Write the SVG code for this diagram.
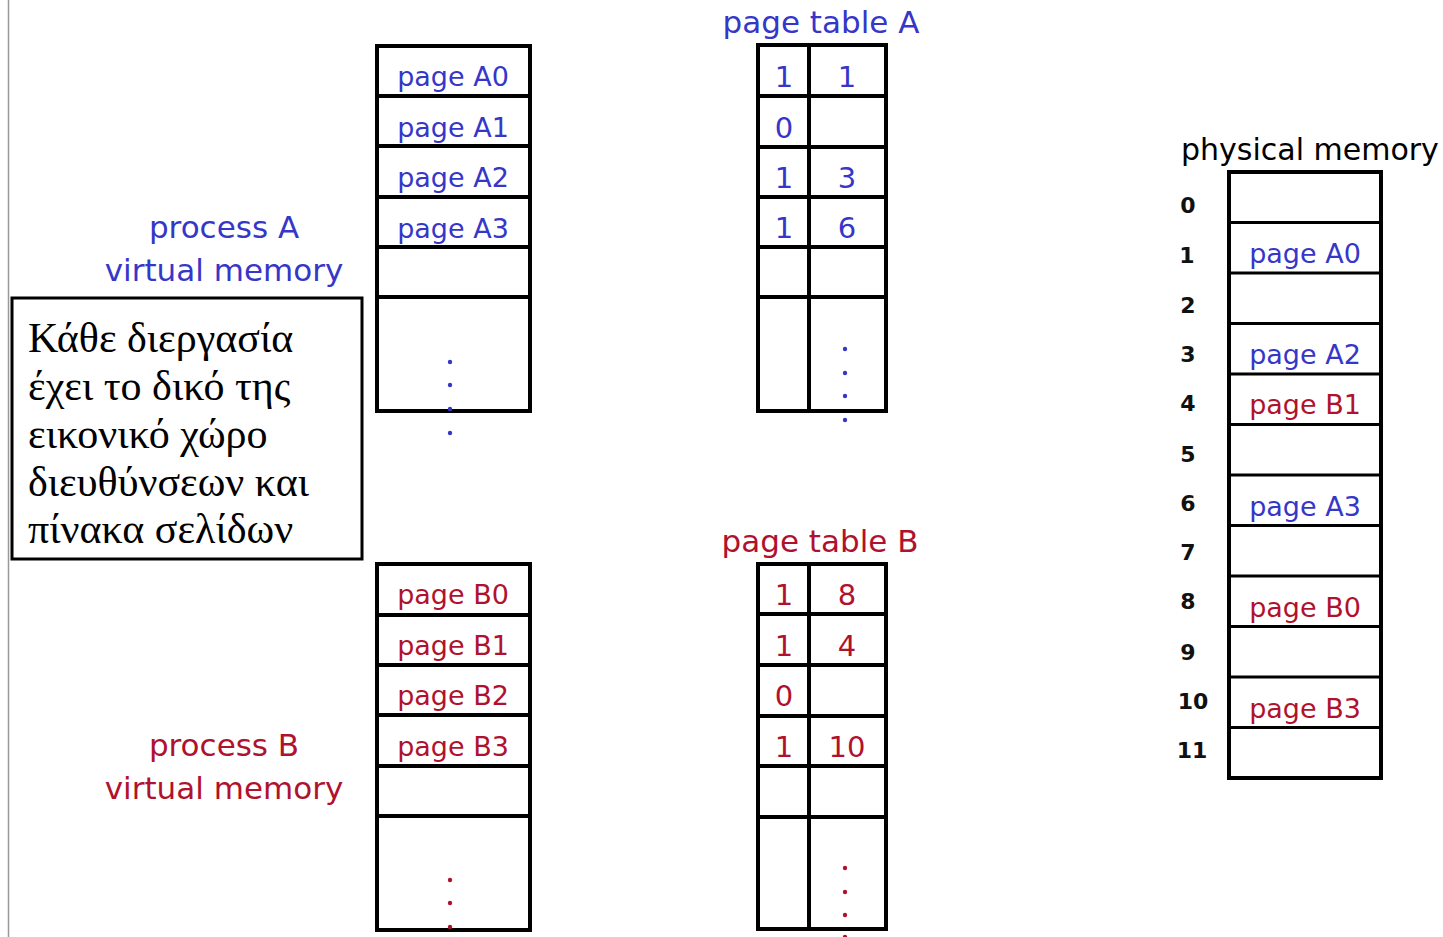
<svg xmlns="http://www.w3.org/2000/svg" width="1443" height="937" viewBox="0 0 1443 937">
<style>
.bg{fill:#fff}
.box{fill:#fff;stroke:#000;stroke-width:4}
.ln{stroke:#000;stroke-width:4}
.lnt{stroke:#000;stroke-width:3}
.t{font-family:"DejaVu Sans","Liberation Sans",sans-serif}
.a{fill:#3636c8}
.b{fill:#b0122e}
.k{fill:#000}
.lbl{font-size:31px;text-anchor:middle}
.pg{font-size:27px;text-anchor:middle}
.num{font-size:29px;text-anchor:middle}
.idx{font-size:22px;font-weight:bold;text-anchor:middle;fill:#111}
.gr{font-family:"Liberation Serif","DejaVu Serif",serif;font-size:42px;fill:#000}
</style>
<rect class="bg" x="0" y="0" width="1443" height="937"/>
<line x1="8.5" y1="0" x2="8.5" y2="937" stroke="#999" stroke-width="1.5"/>

<g id="note">
<rect x="12" y="298" width="350" height="261" fill="#fff" stroke="#000" stroke-width="3"/>
<text class="gr" x="28" y="352">Κάθε διεργασία</text>
<text class="gr" x="28" y="400">έχει το δικό της</text>
<text class="gr" x="28" y="448">εικονικό χώρο</text>
<text class="gr" x="28" y="496">διευθύνσεων και</text>
<text class="gr" x="28" y="543">πίνακα σελίδων</text>
</g>

<g id="labelA" class="t a lbl">
<text x="224" y="238">process A</text>
<text x="224" y="281">virtual memory</text>
</g>
<g id="labelB" class="t b lbl">
<text x="224" y="756">process B</text>
<text x="224" y="799">virtual memory</text>
</g>

<g id="vmA">
<rect class="box" x="377" y="46" width="153" height="365"/>
<line class="ln" x1="377" y1="96" x2="530" y2="96"/>
<line class="ln" x1="377" y1="146" x2="530" y2="146"/>
<line class="ln" x1="377" y1="197" x2="530" y2="197"/>
<line class="ln" x1="377" y1="247" x2="530" y2="247"/>
<line class="ln" x1="377" y1="297" x2="530" y2="297"/>
<g class="t a pg">
<text x="453" y="86">page A0</text>
<text x="453" y="137">page A1</text>
<text x="453" y="187">page A2</text>
<text x="453" y="238">page A3</text>
</g>
<g class="a"><circle cx="450" cy="362" r="2.2"/><circle cx="450" cy="385" r="2.2"/><circle cx="450" cy="409" r="2.2"/><circle cx="450" cy="433" r="2.2"/></g>
</g>

<g id="vmB">
<rect class="box" x="377" y="564" width="153" height="366"/>
<line class="ln" x1="377" y1="615" x2="530" y2="615"/>
<line class="ln" x1="377" y1="665" x2="530" y2="665"/>
<line class="ln" x1="377" y1="715" x2="530" y2="715"/>
<line class="ln" x1="377" y1="766" x2="530" y2="766"/>
<line class="ln" x1="377" y1="816" x2="530" y2="816"/>
<g class="t b pg">
<text x="453" y="604">page B0</text>
<text x="453" y="655">page B1</text>
<text x="453" y="705">page B2</text>
<text x="453" y="756">page B3</text>
</g>
<g class="b"><circle cx="450" cy="880" r="2.2"/><circle cx="450" cy="903" r="2.2"/><circle cx="450" cy="927" r="2.2"/></g>
</g>

<g id="ptA">
<text class="t a lbl" x="821" y="33">page table A</text>
<rect class="box" x="758" y="45" width="128" height="366"/>
<line class="ln" x1="809" y1="45" x2="809" y2="411"/>
<line class="ln" x1="758" y1="96" x2="886" y2="96"/>
<line class="ln" x1="758" y1="147" x2="886" y2="147"/>
<line class="ln" x1="758" y1="197" x2="886" y2="197"/>
<line class="ln" x1="758" y1="247" x2="886" y2="247"/>
<line class="ln" x1="758" y1="297" x2="886" y2="297"/>
<g class="t a num">
<text x="784" y="87">1</text><text x="847" y="87">1</text>
<text x="784" y="138">0</text>
<text x="784" y="188">1</text><text x="847" y="188">3</text>
<text x="784" y="238">1</text><text x="847" y="238">6</text>
</g>
<g class="a"><circle cx="845" cy="349" r="2.2"/><circle cx="845" cy="373" r="2.2"/><circle cx="845" cy="396" r="2.2"/><circle cx="845" cy="420" r="2.2"/></g>
</g>

<g id="ptB">
<text class="t b lbl" x="820" y="552">page table B</text>
<rect class="box" x="758" y="564" width="128" height="365"/>
<line class="ln" x1="809" y1="564" x2="809" y2="929"/>
<line class="ln" x1="758" y1="614" x2="886" y2="614"/>
<line class="ln" x1="758" y1="665" x2="886" y2="665"/>
<line class="ln" x1="758" y1="716" x2="886" y2="716"/>
<line class="ln" x1="758" y1="766" x2="886" y2="766"/>
<line class="ln" x1="758" y1="817" x2="886" y2="817"/>
<g class="t b num">
<text x="784" y="605">1</text><text x="847" y="605">8</text>
<text x="784" y="656">1</text><text x="847" y="656">4</text>
<text x="784" y="706">0</text>
<text x="784" y="757">1</text><text x="847" y="757">10</text>
</g>
<g class="b"><circle cx="845" cy="868" r="2.2"/><circle cx="845" cy="892" r="2.2"/><circle cx="845" cy="915" r="2.2"/><circle cx="845" cy="937" r="2.2"/></g>
</g>

<g id="phys">
<text class="t k" x="1181" y="160" font-size="30">physical memory</text>
<rect class="box" x="1229" y="172" width="152" height="606"/>
<line class="lnt" x1="1229" y1="222.5" x2="1381" y2="222.5"/>
<line class="lnt" x1="1229" y1="273" x2="1381" y2="273"/>
<line class="lnt" x1="1229" y1="323.5" x2="1381" y2="323.5"/>
<line class="lnt" x1="1229" y1="374" x2="1381" y2="374"/>
<line class="lnt" x1="1229" y1="424.5" x2="1381" y2="424.5"/>
<line class="lnt" x1="1229" y1="475" x2="1381" y2="475"/>
<line class="lnt" x1="1229" y1="525.5" x2="1381" y2="525.5"/>
<line class="lnt" x1="1229" y1="576" x2="1381" y2="576"/>
<line class="lnt" x1="1229" y1="626.5" x2="1381" y2="626.5"/>
<line class="lnt" x1="1229" y1="677" x2="1381" y2="677"/>
<line class="lnt" x1="1229" y1="727.5" x2="1381" y2="727.5"/>
<g class="t idx">
<text x="1188" y="213">0</text>
<text x="1187" y="263">1</text>
<text x="1188" y="313">2</text>
<text x="1188" y="362">3</text>
<text x="1188" y="411">4</text>
<text x="1188" y="462">5</text>
<text x="1188" y="511">6</text>
<text x="1188" y="560">7</text>
<text x="1188" y="609">8</text>
<text x="1188" y="660">9</text>
<text x="1193" y="709">10</text>
<text x="1192" y="758">11</text>
</g>
<g class="t pg">
<text class="a" x="1305" y="263">page A0</text>
<text class="a" x="1305" y="364">page A2</text>
<text class="b" x="1305" y="414">page B1</text>
<text class="a" x="1305" y="516">page A3</text>
<text class="b" x="1305" y="617">page B0</text>
<text class="b" x="1305" y="718">page B3</text>
</g>
</g>
</svg>
